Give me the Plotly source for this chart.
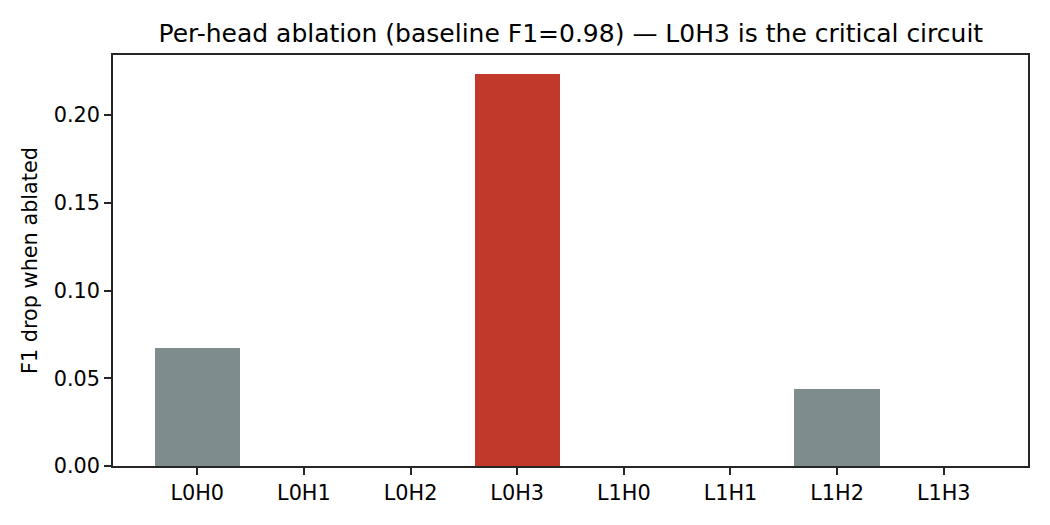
import plotly.graph_objects as go

heads = ['L0H0', 'L0H1', 'L0H2', 'L0H3', 'L1H0', 'L1H1', 'L1H2', 'L1H3']
f1_drop = [0.0672, 0.0, 0.0, 0.2233, 0.0, 0.0, 0.0439, 0.0]
critical = 'L0H3'

colors = ['#c0392b' if h == critical else '#7f8c8d' for h in heads]

fig = go.Figure(go.Bar(x=list(range(len(heads))), y=f1_drop, width=0.8,
                       marker=dict(color=colors, line=dict(width=0))))

axis_style = dict(showline=True, linecolor='#262626', linewidth=1.5, mirror=True,
                  ticks='outside', ticklen=7, tickwidth=1.5, tickcolor='#262626',
                  showgrid=False, zeroline=False,
                  tickfont=dict(size=20.8, color='black'))

fig.update_xaxes(range=[-0.79, 7.79], tickvals=list(range(len(heads))), ticktext=heads,
                 **axis_style)
fig.update_yaxes(range=[0, 0.2342], tickvals=[0, 0.05, 0.10, 0.15, 0.20],
                 ticktext=['0.00', '0.05', '0.10', '0.15', '0.20'],
                 title=dict(text='F1 drop when ablated', font=dict(size=20.8, color='black'), standoff=10),
                 **axis_style)

# page body adds ~8px offset, so margins are shifted to compensate
fig.update_layout(
    width=1050, height=525,
    margin=dict(l=105, r=30, t=47, b=67),
    plot_bgcolor='white', paper_bgcolor='white',
    font=dict(family='DejaVu Sans', color='black'),
    title=dict(text='Per-head ablation (baseline F1=0.98) — L0H3 is the critical circuit',
               font=dict(size=25, color='black'), xref='container', x=0.536, xanchor='center',
               y=0.951, yanchor='middle'),
    showlegend=False,
    bargap=0,
)

fig.write_html('out.html')
